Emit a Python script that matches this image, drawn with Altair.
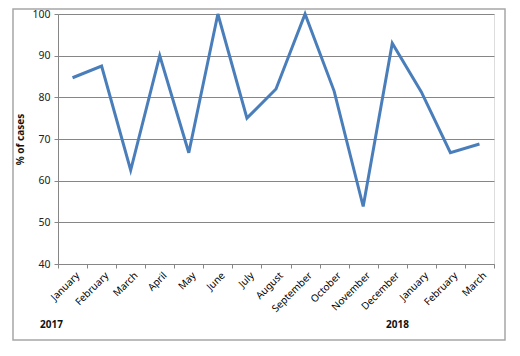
import altair as alt
import pandas as pd

months = ["January", "February", "March", "April", "May", "June", "July", "August",
          "September", "October", "November", "December", "January", "February", "March"]
values = [84.7, 87.5, 62.5, 90.0, 66.7, 100.0, 75.0, 82.0, 100.0, 81.5, 53.8, 93.0, 81.3, 66.7, 68.8]
years = ["2017", "2018"]

df = pd.DataFrame({"idx": list(range(len(months))), "month": months, "value": values})

label_arr = "[" + ",".join("'" + m + "'" for m in months) + ",'']"

W, H = 436, 250

x_axis = alt.Axis(
    values=list(range(len(months) + 1)),
    labelExpr=f"{label_arr}[datum.value]",
    labelAngle=-45, labelAlign="right", labelBaseline="top",
    labelOffset=16, labelPadding=2,
    labelFont="Noto Sans", labelFontSize=10, labelColor="#000",
    grid=False, domainColor="#868686", tickColor="#868686", tickSize=4,
    title=None, labelOverlap=False,
)
y_axis = alt.Axis(
    values=[40, 50, 60, 70, 80, 90, 100],
    grid=True, gridColor="#868686", gridWidth=1,
    domainColor="#868686", tickColor="#868686", tickSize=4,
    labelFont="Noto Sans", labelFontSize=10.5, labelColor="#222", labelPadding=4,
    title="% of cases", titleFont="Noto Sans", titleFontSize=10, titleFontWeight="bold",
    titleColor="#111", titlePadding=6,
)

line = alt.Chart(df).transform_calculate(pos="datum.idx + 0.5").mark_line(
    color="#4a7ebb", strokeWidth=3
).encode(
    x=alt.X("pos:Q", scale=alt.Scale(domain=[0, len(months)], nice=False, zero=False), axis=x_axis),
    y=alt.Y("value:Q", scale=alt.Scale(domain=[40, 100], nice=False, zero=False), axis=y_axis),
)

frame = alt.Chart(pd.DataFrame({"a": [0]})).mark_rect(
    fill=None, stroke="#a6a6a6", strokeWidth=1.5
).encode(
    x=alt.value(-45), x2=alt.value(447), y=alt.value(-5), y2=alt.value(326)
)

ydf = pd.DataFrame({"year": years, "px": [-18, 328], "py": [311, 311]})
year_text = alt.Chart(ydf).mark_text(
    align="left", baseline="middle", font="Noto Sans", fontSize=10, fontWeight="bold", color="#111"
).encode(
    x=alt.X("px:Q", scale=None), y=alt.Y("py:Q", scale=None), text="year:N"
)

chart = alt.layer(frame, line, year_text).properties(
    width=W, height=H,
    autosize=alt.AutoSizeParams(type="none"),
    padding={"left": 50, "top": 6, "right": 14, "bottom": 80},
).configure_view(stroke=None).configure(background="white")

chart.save("out.html", embed_options={"renderer": "svg", "actions": False})
